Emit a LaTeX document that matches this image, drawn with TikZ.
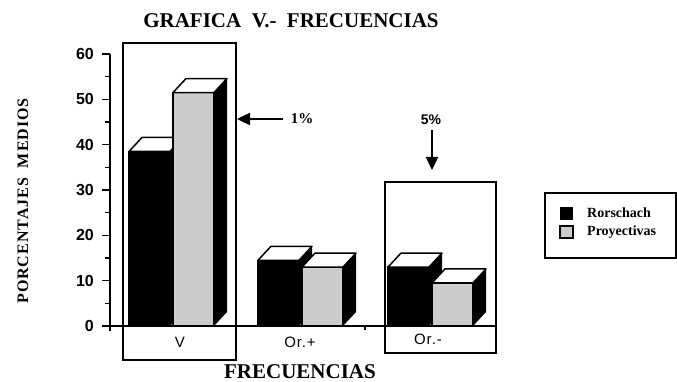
\documentclass[tikz,border=0pt]{standalone}
\usepackage{fontspec}
\setmainfont{Liberation Serif}
\setsansfont{Liberation Sans}
\usetikzlibrary{arrows.meta}
\newcommand\drawbarthree[3]{%
  \pgfmathsetmacro\tp{326-#2*4.533}%
  \fill[black] (#1+41,326) -- (#1+54,312) -- (#1+54,\tp-14) -- (#1+41,\tp) -- cycle;
  \filldraw[fill=#3, face] (#1,326) rectangle (#1+41,\tp);
  \filldraw[fill=white, face] (#1,\tp) -- (#1+13,\tp-14) -- (#1+54,\tp-14) -- (#1+41,\tp) -- cycle;
}
\definecolor{stip}{gray}{0.80}
\begin{document}
\begin{tikzpicture}[x=1pt,y=-1pt,
  frame/.style={line width=1.6pt},
  face/.style={draw=black,line width=1.5pt,line join=round},
  axisline/.style={line width=1.8pt},
  ticklabel/.style={font=\sffamily\bfseries\fontsize{16}{16}\selectfont,anchor=east,inner sep=0pt},
  catlabel/.style={font=\sffamily\fontsize{15}{15}\selectfont\addfontfeatures{LetterSpace=6},inner sep=0pt},
  titlefont/.style={font=\bfseries\fontsize{21}{21}\selectfont,inner sep=0pt},
  legtext/.style={font=\bfseries\fontsize{14}{14}\selectfont,anchor=west,inner sep=0pt},
  sigarrow/.style={line width=2.4pt,-{Triangle[length=13pt,width=12pt]}},
  sigtext/.style={font=\bfseries\fontsize{15}{15}\selectfont,inner sep=0pt}]
\useasboundingbox (0,0) rectangle (677,382);
\fill[white] (0,0) rectangle (677,382);
% title
\node[titlefont] (title) at (291,21) {GRAFICA\ \ V.-\ \ FRECUENCIAS};
% y label
\node[rotate=90,font=\bfseries\fontsize{16}{16}\selectfont\addfontfeatures{LetterSpace=6},inner sep=0pt] (ylab) at (23,201) {PORCENTAJES\ \ MEDIOS};
% x label
\node[font=\bfseries\fontsize{21}{21}\selectfont,inner sep=0pt] (xlab) at (300,372) {FRECUENCIAS};
% bars
\drawbarthree{129}{38.5}{black}
\drawbarthree{173}{51.5}{stip}
\drawbarthree{258}{14.5}{black}
\drawbarthree{302}{13}{stip}
\drawbarthree{388}{13}{black}
\drawbarthree{432}{9.5}{stip}
% frames
\draw[frame] (123,326) -- (123,43) -- (236,43) -- (236,360) -- (123,360) -- cycle;
\draw[frame] (385,326) -- (385,182) -- (496,182) -- (496,353) -- (385,353) -- cycle;
% axes
\draw[axisline] (103,326) -- (497,326);
\draw[axisline] (110,54) -- (110,331);
\foreach \v in {0,10,...,60} {
  \draw[line width=1.6pt] (102,326-\v*4.533) -- (110,326-\v*4.533);
  \node[ticklabel] (t\v) at (94,326-\v*4.533) {\v};
}
\foreach \v in {5,15,...,55} {
  \draw[line width=1.6pt] (105,326-\v*4.533) -- (110,326-\v*4.533);
}
\draw[line width=1.4pt] (365,326) -- (365,330);
% category labels
\node[catlabel] (cV) at (180,342) {V};
\node[catlabel] (cOp) at (300,342) {Or.+};
\node[catlabel] (cOm) at (428,339) {Or.-};
% significance arrows
\coordinate (a1s) at (283,119);
\coordinate (a1e) at (237,119);
\draw[sigarrow] (a1s) -- (a1e);
\node[sigtext] (p1) at (302,119) {1\%};
\node[sigtext,font=\sffamily\bfseries\fontsize{14}{14}\selectfont] (p5) at (431,120) {5\%};
\coordinate (a5s) at (432,130);
\coordinate (a5e) at (432,170);
\draw[sigarrow] (a5s) -- (a5e);
% legend
\draw[frame] (545,193) rectangle (676,258);
\fill[black] (560,207) rectangle (573,220);
\filldraw[fill=stip,draw=black,line width=1.4pt] (560,226) rectangle (573,238);
\node[legtext] (l1) at (587,213) {Rorschach};
\node[legtext] (l2) at (587,232) {Proyectivas};
\end{tikzpicture}
\end{document}
